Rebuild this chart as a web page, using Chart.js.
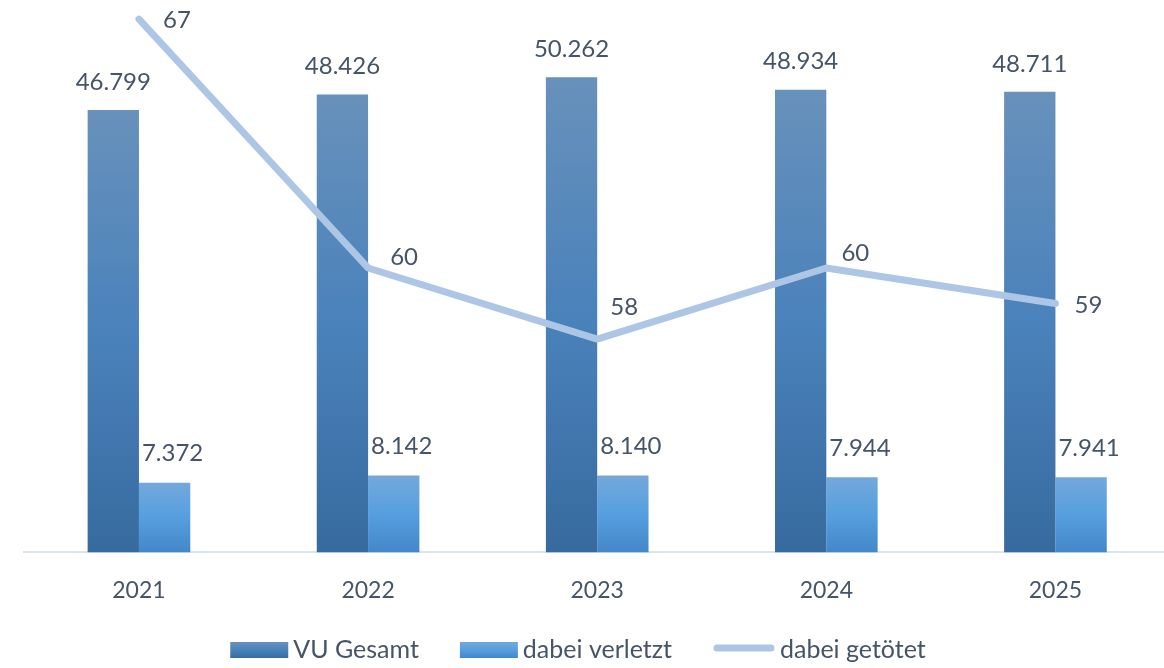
<!DOCTYPE html>
<html lang="de">
<head>
<meta charset="utf-8">
<title>Verkehrsunfälle 2021–2025</title>
<script src="https://cdn.jsdelivr.net/npm/chart.js@4.4.1/dist/chart.umd.min.js"></script>
<style>
  html, body { margin: 0; padding: 0; background: #ffffff; overflow: hidden; width: 1164px; height: 668px; }
  #wrap { position: absolute; left: 0; top: 0; width: 1170px; height: 668px; }
  canvas { display: block; }
</style>
</head>
<body>
<div id="wrap"><canvas id="c" width="1170" height="668"></canvas></div>
<script>
// ---- data ----
const categories = ['2021', '2022', '2023', '2024', '2025'];
const vuGesamt = [46799, 48426, 50262, 48934, 48711];
const dabeiVerletzt = [7372, 8142, 8140, 7944, 7941];
const dabeiGetoetet = [67, 60, 58, 60, 59];
const seriesNames = ['VU Gesamt', 'dabei verletzt', 'dabei getötet'];

// ---- styles ----
const FONT = 'Lato, "Source Sans Pro", "Open Sans", sans-serif';
const TEXT = '#465468';
const vuStops = ['#6891bb', '#4a82bb', '#376b9f'];
const vlStops = ['#74a8dc', '#569fdf', '#4387c9'];
const lineColor = '#adc6e6';
// per-point label offsets for the line labels (px)
const lineLabelOffsets = [[38, 1], [36, -11], [27, -32], [29, -15], [33, 2]];

function fmtDE(v) {
  return v.toLocaleString('de-DE');
}

function barGradient(ctx, stops) {
  const chart = ctx.chart;
  if (ctx.type !== 'data' || !chart.chartArea || !chart.scales.y) return stops[1];
  const ys = chart.scales.y;
  const top = ys.getPixelForValue(ctx.raw);
  const base = ys.getPixelForValue(0);
  if (!isFinite(top) || !isFinite(base) || base - top < 1) return stops[1];
  const g = chart.ctx.createLinearGradient(0, top, 0, base);
  g.addColorStop(0, stops[0]);
  g.addColorStop(0.5, stops[1]);
  g.addColorStop(1, stops[2]);
  return g;
}

const labelsPlugin = {
  id: 'valueLabels',
  afterDatasetsDraw(chart) {
    const c = chart.ctx;
    c.save();
    c.fillStyle = TEXT;
    c.font = '24px ' + FONT;
    c.textAlign = 'center';
    c.textBaseline = 'middle';
    chart.getDatasetMeta(0).data.forEach((el, i) => {
      c.fillText(fmtDE(vuGesamt[i]), el.x, el.y - 28);
    });
    chart.getDatasetMeta(1).data.forEach((el, i) => {
      c.fillText(fmtDE(dabeiVerletzt[i]), el.x + 8, el.y - 29);
    });
    chart.getDatasetMeta(2).data.forEach((el, i) => {
      const o = lineLabelOffsets[i];
      c.fillText(fmtDE(dabeiGetoetet[i]), el.x + o[0], el.y + o[1]);
    });
    c.restore();
  }
};

const legendPlugin = {
  id: 'customLegend',
  afterDraw(chart) {
    const c = chart.ctx;
    c.save();
    c.font = '25px ' + FONT;
    c.textBaseline = 'middle';
    c.textAlign = 'left';
    const sw = 58, sh = 16, lw = 62, gapT = 5, gapI = 41;
    const cy = 650;
    const widths = seriesNames.map(n => c.measureText(n).width);
    const swW = [sw, sw, lw];
    let total = 0;
    for (let i = 0; i < 3; i++) total += swW[i] + gapT + widths[i] + (i < 2 ? gapI : 0);
    let x = 578 - total / 2;
    for (let i = 0; i < 3; i++) {
      if (i < 2) {
        const stops = i === 0 ? vuStops : vlStops;
        const g = c.createLinearGradient(0, cy - sh / 2, 0, cy + sh / 2);
        g.addColorStop(0, stops[0]);
        g.addColorStop(0.5, stops[1]);
        g.addColorStop(1, stops[2]);
        c.fillStyle = g;
        c.fillRect(x, cy - sh / 2, sw, sh);
      } else {
        c.strokeStyle = lineColor;
        c.lineWidth = 7;
        c.lineCap = 'round';
        c.beginPath();
        c.moveTo(x + 4, cy - 2);
        c.lineTo(x + lw - 4, cy - 2);
        c.stroke();
      }
      x += swW[i] + gapT;
      c.fillStyle = TEXT;
      c.fillText(seriesNames[i], x, cy);
      x += widths[i] + gapI;
    }
    c.restore();
  }
};

function build() {
  new Chart(document.getElementById('c'), {
    data: {
      labels: categories,
      datasets: [
        {
          type: 'bar',
          label: seriesNames[0],
          data: vuGesamt,
          yAxisID: 'y',
          order: 2,
          backgroundColor: ctx => barGradient(ctx, vuStops),
          borderWidth: 0,
          categoryPercentage: 0.448,
          barPercentage: 1.0
        },
        {
          type: 'bar',
          label: seriesNames[1],
          data: dabeiVerletzt,
          yAxisID: 'y',
          order: 2,
          backgroundColor: ctx => barGradient(ctx, vlStops),
          borderWidth: 0,
          categoryPercentage: 0.448,
          barPercentage: 1.0
        },
        {
          type: 'line',
          label: seriesNames[2],
          data: dabeiGetoetet,
          yAxisID: 'y1',
          order: 0,
          borderColor: lineColor,
          backgroundColor: lineColor,
          borderWidth: 7,
          borderCapStyle: 'round',
          borderJoinStyle: 'round',
          pointRadius: 0,
          pointHoverRadius: 0,
          tension: 0,
          fill: false
        }
      ]
    },
    options: {
      responsive: false,
      animation: false,
      devicePixelRatio: 1,
      layout: { padding: { top: 12, left: 24.4, right: 0, bottom: 40 } },
      plugins: {
        legend: { display: false },
        tooltip: { enabled: false }
      },
      scales: {
        x: {
          type: 'category',
          offset: true,
          grid: { display: false, drawTicks: false },
          border: { display: true, color: '#dde3ea', width: 2 },
          ticks: {
            color: TEXT,
            font: { family: FONT, size: 23 },
            padding: 24,
            maxRotation: 0,
            autoSkip: false
          }
        },
        y: {
          type: 'linear',
          display: false,
          min: 0,
          max: 57158
        },
        y1: {
          type: 'linear',
          display: false,
          position: 'right',
          min: 52,
          max: 67.2
        }
      }
    },
    plugins: [labelsPlugin, legendPlugin]
  });
}

if (document.fonts && document.fonts.load) {
  Promise.all([document.fonts.load('24px Lato'), document.fonts.load('25px Lato'), document.fonts.load('23px Lato')])
    .then(build, build);
} else {
  build();
}
</script>
</body>
</html>
